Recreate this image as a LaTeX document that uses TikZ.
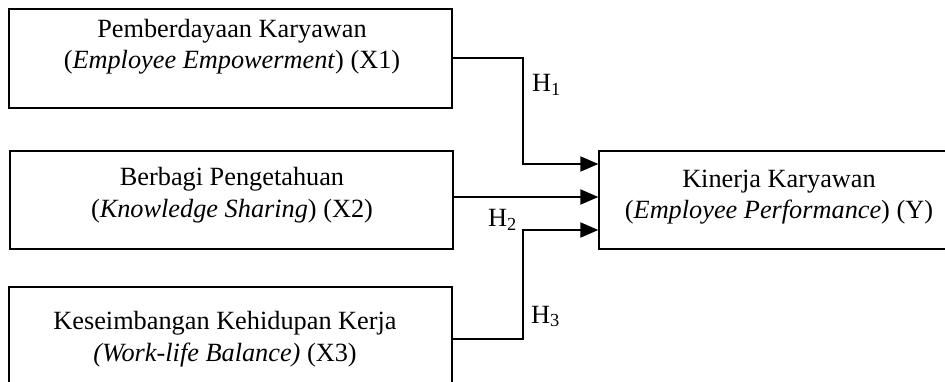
\documentclass[tikz,border=0pt]{standalone}
\usepackage{fontspec}
\setmainfont{Liberation Serif}
\usetikzlibrary{arrows.meta}
\begin{document}
\begin{tikzpicture}[x=1pt,y=-1pt,
  box/.style={draw=black,line width=1.3pt,rectangle,inner sep=0pt},
  txt/.style={align=center,inner sep=0pt,font=\fontsize{26.3pt}{31.5pt}\selectfont},
  hlab/.style={anchor=base west,inner sep=0pt,font=\fontsize{26.3pt}{31.5pt}\selectfont},
  conn/.style={line width=2pt,-{Triangle[length=18pt,width=15pt]}},
  plain/.style={line width=2pt}]
\clip (0,0) rectangle (945,382);
% boxes
\node[box,minimum width=443pt,minimum height=99pt] (x1) at (230.5,58.5) {};
\node[box,minimum width=443pt,minimum height=98pt] (x2) at (231.5,200) {};
\node[box,minimum width=443pt,minimum height=100pt] (x3) at (230.5,337) {};
\node[box,minimum width=360pt,minimum height=98pt] (yb) at (779,200) {};
% texts
\node[txt] (x1t) at (232,46.5) {Pemberdayaan Karyawan\\(\textit{Employee Empowerment}) (X1)};
\node[txt] (x2t) at (232,195) {Berbagi Pengetahuan\\(\textit{Knowledge Sharing}) (X2)};
\node[txt] (x3t) at (225,339) {Keseimbangan Kehidupan Kerja\\\textit{(Work-life Balance)} (X3)};
\node[txt] (ybt) at (779,197) {Kinerja Karyawan\\(\textit{Employee Performance}) (Y)};
% junctions and targets
\coordinate (j1) at (523,58.5);
\coordinate (j3) at (523,339);
\coordinate (t1) at ([yshift=36pt]yb.west);
\coordinate (t2) at ([yshift=3pt]yb.west);
\coordinate (t3) at ([yshift=-30pt]yb.west);
% connectors
\draw[conn] (x1.east) -- (j1) |- (t1);
\draw[conn] (x2.east |- t2) -- (t2);
\draw[conn] (x3.east |- j3) -- (j3) |- (t3);
% labels
\node[hlab] (h1) at (532,92) {H\textsubscript{1}};
\node[hlab] (h2) at (488,227) {H\textsubscript{2}};
\node[hlab] (h3) at (531,323) {H\textsubscript{3}};
\end{tikzpicture}
\end{document}
